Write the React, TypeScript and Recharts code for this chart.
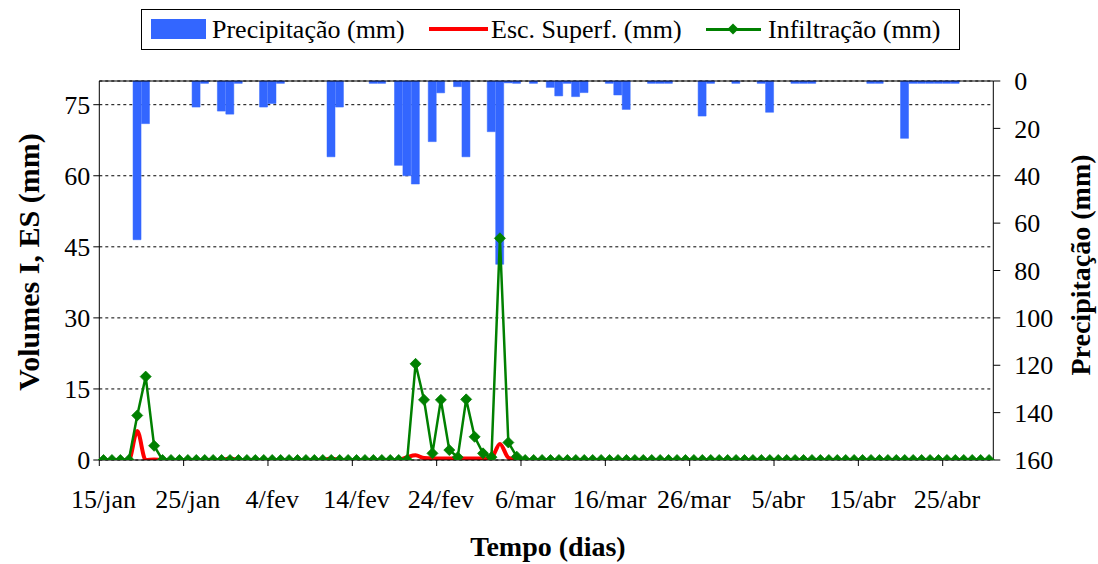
import React from 'react';
import { ComposedChart, Bar, Line, XAxis, YAxis, CartesianGrid, ReferenceLine, Label } from 'recharts';

// ---- categories: daily dates from 15/jan to 30/abr ----
const monthNames = ['jan', 'fev', 'mar', 'abr'];
const monthDays = [31, 28, 31, 30];
const dates: string[] = [];
for (let m = 0; m < monthNames.length; m++) {
  const start = m === 0 ? 15 : 1;
  for (let d = start; d <= monthDays[m]; d++) dates.push(`${d}/${monthNames[m]}`);
}

// ---- series values ----
const precipitacao = [
  0, 0, 0, 0, 67, 18, 0, 0, 0, 0,
  0, 11, 1, 0, 12.7, 14, 1, 0, 0, 11,
  9.5, 1, 0, 0, 0, 0, 0, 32, 11, 0,
  0, 0, 1, 1, 0, 35.6, 40, 43.5, 0, 25.6,
  5, 0, 2.4, 32, 0, 0, 21.4, 77.4, 0.8, 1,
  0, 1, 0, 2.7, 6.3, 1, 6.6, 4.9, 0, 0,
  1, 5.9, 12, 0, 0, 1, 1, 1, 0, 0,
  0, 14.8, 1, 0, 0, 1, 0, 0, 1, 13.2,
  0, 0, 1, 1, 1, 0, 0, 0, 0, 0,
  0, 1, 1, 0, 0, 24.2, 1, 1, 1, 1,
  1, 1, 0, 0, 0, 0,
];

const escSuperf = [
  0, 0, 0, 0, 6.1, 0, 0.1, 0, 0, 0,
  0, 0, 0, 0, 0, 0.3, 0, 0, 0, 0,
  0, 0, 0, 0, 0, 0, 0, 0.3, 0, 0,
  0, 0, 0, 0, 0, 0, 0.6, 1.0, 0.4, 0.3,
  0.3, 0.3, 0.3, 0.3, 0.3, 0.3, 0.5, 3.4, 0.5, 0,
  0, 0, 0, 0, 0, 0, 0, 0, 0, 0,
  0, 0, 0, 0, 0, 0, 0, 0, 0, 0,
  0, 0, 0, 0, 0, 0, 0, 0, 0, 0,
  0, 0, 0, 0, 0, 0, 0, 0, 0, 0,
  0, 0, 0, 0, 0, 0, 0, 0, 0, 0,
  0, 0, 0, 0, 0, 0,
];

const infiltracao = [
  0, 0, 0, 0, 9.4, 17.6, 3.0, 0, 0, 0,
  0, 0, 0, 0, 0, 0, 0, 0, 0, 0,
  0, 0, 0, 0, 0, 0, 0, 0, 0, 0,
  0, 0, 0, 0, 0, 0, 0, 20.3, 12.7, 1.4,
  12.7, 2.1, 0.6, 12.8, 4.9, 1.4, 0.6, 46.8, 3.7, 0.7,
  0, 0, 0, 0, 0, 0, 0, 0, 0, 0,
  0, 0, 0, 0, 0, 0, 0, 0, 0, 0,
  0, 0, 0, 0, 0, 0, 0, 0, 0, 0,
  0, 0, 0, 0, 0, 0, 0, 0, 0, 0,
  0, 0, 0, 0, 0, 0, 0, 0, 0, 0,
  0, 0, 0, 0, 0, 0,
];

const leftTicks = [0, 15, 30, 45, 60, 75];
const rightTicks = [0, 20, 40, 60, 80, 100, 120, 140, 160];

const data = dates.map((d, i) => ({
  date: d,
  p: precipitacao[i],
  es: escSuperf[i],
  inf: infiltracao[i],
}));

// ---- layout ----
const W = 1098;
const H = 564;
const PL = 99.3;
const PR = 993.3;
const PT = 81;
const PB = 460;
const YW = 60;
const XH = 60;
const BW = (PR - PL) / dates.length;
const FONT = '"Liberation Serif", "Times New Roman", serif';

const XTick = (props: any) => {
  const { x, payload } = props;
  return (
    <g>
      <line x1={x - BW / 2} x2={x - BW / 2} y1={PB} y2={PB + 6} stroke="#000" strokeWidth={1} />
      <text x={x} y={PB + 48} textAnchor="middle" fontSize={26} fontFamily={FONT} fill="#000">
        {payload.value}
      </text>
    </g>
  );
};

const Diamond = (props: any) => {
  const { cx, cy, index } = props;
  if (cx == null || cy == null) return <g key={`d${index}`} />;
  const r = 5.5;
  return (
    <path
      key={`d${index}`}
      d={`M${cx},${cy - r} L${cx + r},${cy} L${cx},${cy + r} L${cx - r},${cy} Z`}
      fill="#008000"
      stroke="#008000"
      strokeWidth={0.8}
    />
  );
};

const titleStyle = { fontFamily: FONT, fontWeight: 'bold' as const, fill: '#000' };

export default function App() {
  return (
    <div style={{ position: 'absolute', left: 0, top: 0, width: W, height: H, background: '#fff' }}>
      <ComposedChart
        width={W}
        height={H}
        data={data}
        margin={{ top: PT, bottom: H - PB - XH, left: PL - YW, right: W - PR - YW }}
        barCategoryGap={0}
        barGap={0}
      >
        <CartesianGrid yAxisId="left" vertical={false} stroke="#000" strokeDasharray="3 3" />
        <XAxis
          dataKey="date"
          interval={9}
          tickLine={false}
          axisLine={{ stroke: '#000' }}
          tick={<XTick />}
          height={XH}
        >
          <Label
            content={() => (
              <text x={548} y={556} textAnchor="middle" fontSize={28} {...titleStyle}>
                Tempo (dias)
              </text>
            )}
          />
        </XAxis>
        <YAxis
          yAxisId="left"
          domain={[0, 80]}
          ticks={leftTicks}
          width={YW}
          tickSize={6}
          tickMargin={3}
          axisLine={{ stroke: '#000' }}
          tickLine={{ stroke: '#000' }}
          tick={{ fontSize: 26, fontFamily: FONT, fill: '#000' }}
          allowDataOverflow
        >
          <Label
            content={() => (
              <text
                x={28}
                y={262}
                transform="rotate(-90 28 262)"
                textAnchor="middle"
                dominantBaseline="central"
                fontSize={30}
                {...titleStyle}
              >
                Volumes I, ES (mm)
              </text>
            )}
          />
        </YAxis>
        <YAxis
          yAxisId="right"
          orientation="right"
          reversed
          domain={[0, 160]}
          ticks={rightTicks}
          width={YW}
          tickSize={7}
          tickMargin={14}
          axisLine={{ stroke: '#000' }}
          tickLine={{ stroke: '#000' }}
          tick={{ fontSize: 26, fontFamily: FONT, fill: '#000' }}
        >
          <Label
            content={() => (
              <text
                x={1080}
                y={265}
                transform="rotate(-90 1080 265)"
                textAnchor="middle"
                dominantBaseline="central"
                fontSize={28}
                {...titleStyle}
              >
                Precipitação (mm)
              </text>
            )}
          />
        </YAxis>
        <ReferenceLine yAxisId="right" y={0} stroke="#000" strokeWidth={1} />
        <Bar yAxisId="right" dataKey="p" fill="#3366ff" stroke="#3366ff" strokeWidth={0.5} isAnimationActive={false} />
        <Line
          yAxisId="left"
          type="monotone"
          dataKey="es"
          stroke="#ff0000"
          strokeWidth={4}
          dot={false}
          activeDot={false}
          isAnimationActive={false}
        />
        <Line
          yAxisId="left"
          type="linear"
          dataKey="inf"
          stroke="#008000"
          strokeWidth={2.5}
          dot={Diamond}
          activeDot={false}
          isAnimationActive={false}
        />
      </ComposedChart>
      <div
        style={{
          position: 'absolute',
          left: 141,
          top: 9,
          width: 819,
          height: 41,
          border: '1px solid #000',
          boxSizing: 'border-box',
          background: '#fff',
          fontFamily: FONT,
          fontSize: 26,
          color: '#000',
        }}
      >
        <div style={{ position: 'absolute', left: 9, top: 9, width: 55, height: 20, background: '#3366ff' }} />
        <div style={{ position: 'absolute', left: 70, top: 0, lineHeight: '39px', whiteSpace: 'nowrap' }}>
          Precipitação (mm)
        </div>
        <div style={{ position: 'absolute', left: 287, top: 17, width: 59, height: 4, background: '#ff0000' }} />
        <div style={{ position: 'absolute', left: 349, top: 0, lineHeight: '39px', whiteSpace: 'nowrap' }}>
          Esc. Superf. (mm)
        </div>
        <div style={{ position: 'absolute', left: 564, top: 18, width: 55, height: 2.5, background: '#008000' }} />
        <svg style={{ position: 'absolute', left: 584, top: 12 }} width={14} height={14}>
          <path d="M7,1.5 L12.5,7 L7,12.5 L1.5,7 Z" fill="#008000" />
        </svg>
        <div style={{ position: 'absolute', left: 626, top: 0, lineHeight: '39px', whiteSpace: 'nowrap' }}>
          Infiltração (mm)
        </div>
      </div>
    </div>
  );
}
